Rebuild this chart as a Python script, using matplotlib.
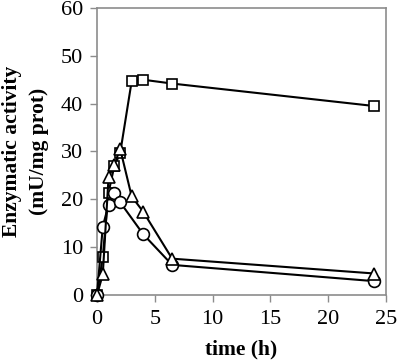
import matplotlib.pyplot as plt

plt.rcParams['font.family'] = ['Liberation Serif', 'DejaVu Serif']

# time points (h)
t = [0, 0.5, 1, 1.5, 2, 3, 4, 6.5, 24]
t_circ = [0, 0.5, 1, 1.5, 2, 4, 6.5, 24]

# enzymatic activity (mU/mg prot)
squares = [0, 8.0, 21.4, 27.0, 29.6, 44.7, 45.0, 44.2, 39.5]
circles = [0, 14.3, 18.9, 21.4, 19.4, 12.7, 6.3, 2.9]
triangles = [0, 4.3, 24.6, 27.2, 30.6, 20.6, 17.4, 7.6, 4.5]

fig = plt.figure(figsize=(4, 3.62), dpi=100)
ax = fig.add_axes([0.2425, 0.185, 0.7225, 0.793])

style = dict(color='black', lw=1.5, mfc='white', mec='black', mew=1.2,
             clip_on=False)
ax.plot(t, squares, marker='s', ms=7.5, zorder=3, **style)
ax.plot(t_circ, circles, marker='o', ms=8.5, zorder=4, **style)
ax.plot(t, triangles, marker='^', ms=8.5, zorder=5, **style)

ax.set_xlim(0, 25)
ax.set_ylim(0, 60)
ax.set_xticks([0, 5, 10, 15, 20, 25])
ax.set_yticks([0, 10, 20, 30, 40, 50, 60])

for s in ax.spines.values():
    s.set_color('#8c8c8c')
    s.set_linewidth(1.2)
ax.tick_params(colors='#8c8c8c', labelcolor='black', labelsize=16,
               direction='out', length=5, width=1)
ax.tick_params(axis='x', pad=6)
ax.tick_params(axis='y', pad=5)

ax.set_xlabel('time (h)', fontsize=15.5, fontweight='bold', labelpad=7)
ax.set_ylabel('Enzymatic activity\n(mU/mg prot)', fontsize=15.5,
              fontweight='bold', multialignment='center', labelpad=8.5,
              linespacing=1.45)

fig.savefig('out.png', dpi=100)
